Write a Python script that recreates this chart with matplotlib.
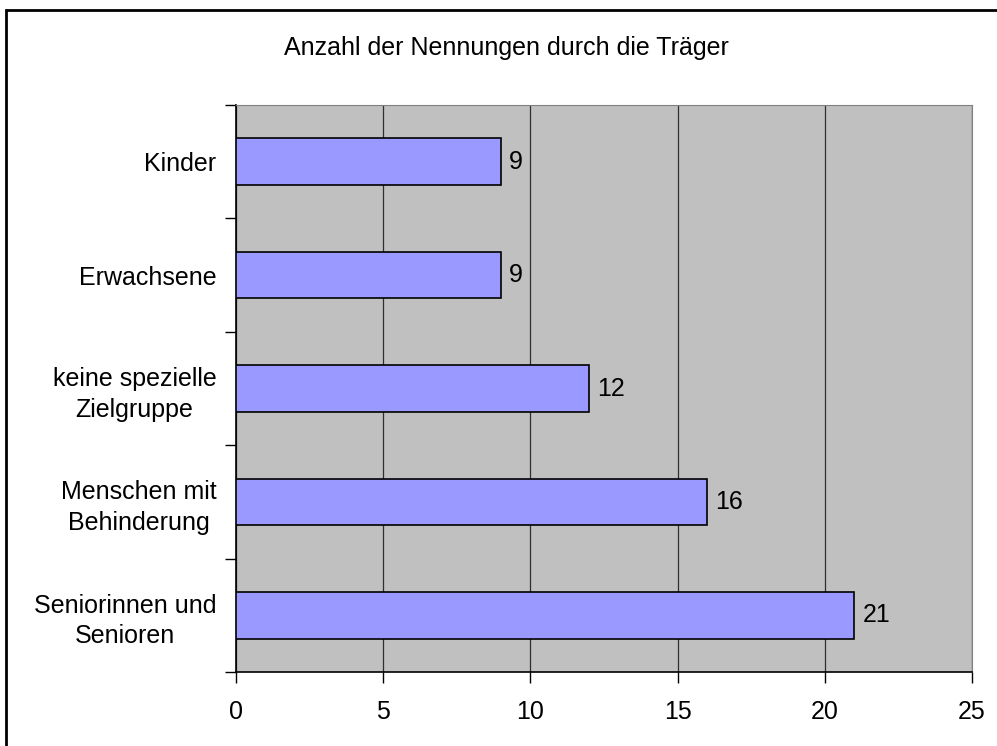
import matplotlib
matplotlib.use("Agg")
import matplotlib.pyplot as plt
from matplotlib.patches import Rectangle
import numpy as np

categories = ["Kinder", "Erwachsene", "keine spezielle\nZielgruppe",
              "Menschen mit\nBehinderung", "Seniorinnen und\nSenioren"]
values = [9, 9, 12, 16, 21]
xticks = [0, 5, 10, 15, 20, 25]

plt.rcParams['font.family'] = ['Liberation Sans', 'DejaVu Sans']
fs = 18

fig = plt.figure(figsize=(9.97, 7.46), dpi=100)
ax = fig.add_axes([236/997, 1 - 672/746, (972 - 236)/997, (672 - 105)/746])
ax.set_facecolor("#C0C0C0")

# top category first
ypos = np.arange(len(categories))[::-1]
ax.barh(ypos, values, height=0.41, color="#9999FF", edgecolor="black", linewidth=1.2, zorder=3)
for y, v in zip(ypos, values):
    ax.annotate(str(v), (v, y), xytext=(6, 0), textcoords="offset points",
                va="center", ha="left", fontsize=fs, zorder=4)

ax.set_xlim(0, 25)
ax.set_ylim(-0.5, len(categories) - 0.5)
ax.set_xticks(xticks)
ax.set_xticklabels([str(t) for t in xticks], fontsize=fs)
ax.xaxis.grid(True, color="#303030", linewidth=0.9, zorder=1)
ax.set_axisbelow(True)

# boundary ticks on y, labels centered in slots
ax.set_yticks(np.arange(-0.5, len(categories), 1.0))
ax.set_yticklabels([])
ax.set_yticks(ypos, minor=True)
ax.set_yticklabels(categories, minor=True, fontsize=fs, multialignment="center",
                   linespacing=1.35)
ax.tick_params(axis="y", which="minor", length=0, pad=14)
ax.tick_params(axis="y", which="major", length=8, direction="out", width=1)
ax.tick_params(axis="x", length=8, direction="out", width=1, pad=12)

for s in ["top", "right"]:
    ax.spines[s].set_color("#808080")
for s in ["left", "bottom"]:
    ax.spines[s].set_color("black")
    ax.spines[s].set_linewidth(1.2)

fig.text(506/997, 1 - 48/746, "Anzahl der Nennungen durch die Träger",
         ha="center", va="center", fontsize=fs)

# outer frame (only left and top edges visible)
fig.patches.append(Rectangle((6/997, -0.2), 1.5, 1.2 - 10/746, transform=fig.transFigure,
                             fill=False, edgecolor="black", linewidth=2))

fig.savefig("out.png", dpi=100)
